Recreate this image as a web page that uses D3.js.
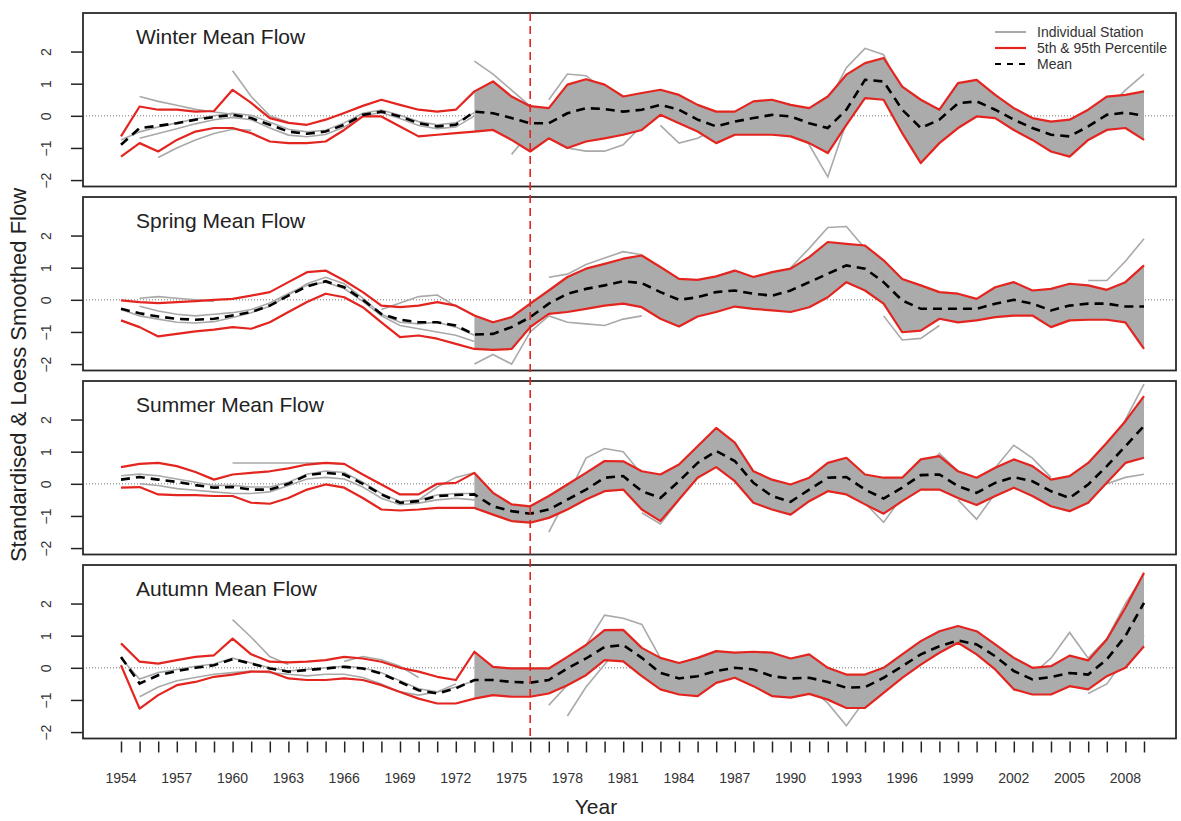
<!DOCTYPE html>
<html><head><meta charset="utf-8">
<script src="https://cdn.jsdelivr.net/npm/d3@7"></script>
<style>body{margin:0;background:#fff}svg{display:block;font-family:"Liberation Sans",Arial,Helvetica,sans-serif}</style>
</head><body><svg id="c" width="1181" height="821"></svg>
<script>
// ---------- DATA ----------
const firstYear = 1954, lastYear = 2009;
const years = d3.range(firstYear, lastYear + 1);
const xTickLabels = [1954,1957,1960,1963,1966,1969,1972,1975,1978,1981,1984,1987,1990,1993,1996,1999,2002,2005,2008];
const yTickValues = [-2,-1,0,1,2];
const breakYear = 1976;
const denseStart = 1973;
const panelTitles = ["Winter Mean Flow","Spring Mean Flow","Summer Mean Flow","Autumn Mean Flow"];
const legendLabels = ["Individual Station","5th & 95th Percentile","Mean"];

const winterMean = [-0.9,-0.38,-0.31,-0.23,-0.12,-0.04,0.03,-0.07,-0.28,-0.49,-0.56,-0.49,-0.28,0.03,0.13,-0.02,-0.23,-0.33,-0.28,0.13,0.08,-0.07,-0.23,
  -0.23,0.08,0.24,0.21,0.13,0.19,0.34,0.19,-0.12,-0.33,-0.18,-0.07,0.03,-0.02,-0.23,-0.38,0.19,1.12,1.07,0.19,-0.38,-0.12,0.39,0.45,0.19,-0.12,-0.38,-0.59,-0.64,-0.33,0.03,0.1,0.0];
const winterP95 = [-0.64,0.29,0.19,0.19,0.13,0.15,0.81,0.4,-0.07,-0.22,-0.28,-0.12,0.09,0.31,0.5,0.34,0.19,0.13,0.19,0.76,1.07,0.6,0.3,
  0.24,0.97,1.14,0.97,0.6,0.71,0.81,0.65,0.34,0.13,0.13,0.45,0.5,0.34,0.24,0.6,1.28,1.64,1.8,0.91,0.5,0.19,1.02,1.12,0.65,0.24,-0.07,-0.18,-0.12,0.19,0.6,0.65,0.76];
const winterP5 = [-1.27,-0.85,-1.11,-0.75,-0.49,-0.38,-0.38,-0.54,-0.8,-0.85,-0.85,-0.8,-0.44,-0.02,-0.02,-0.33,-0.64,-0.59,-0.54,-0.49,-0.44,-0.75,-1.11,
  -0.7,-1.0,-0.8,-0.7,-0.59,-0.44,0.03,-0.23,-0.49,-0.85,-0.59,-0.59,-0.59,-0.64,-0.85,-1.16,-0.28,0.55,0.5,-0.54,-1.47,-0.85,-0.38,-0.02,-0.07,-0.44,-0.75,-1.11,-1.27,-0.75,-0.44,-0.38,-0.75];

const springMean = [-0.28,-0.42,-0.52,-0.59,-0.62,-0.59,-0.49,-0.38,-0.18,0.13,0.42,0.58,0.39,0,-0.44,-0.62,-0.7,-0.7,-0.8,-1.08,-1.06,-0.85,-0.54,-0.12,0.19,0.34,0.45,0.58,
  0.52,0.24,0,0.08,0.24,0.29,0.19,0.13,0.29,0.55,0.81,1.07,0.97,0.55,-0.02,-0.28,-0.28,-0.28,-0.28,-0.12,0,-0.12,-0.33,-0.18,-0.12,-0.12,-0.21,-0.21];
const springP95 = [-0.02,-0.07,-0.1,-0.07,-0.04,0,0.03,0.13,0.24,0.55,0.86,0.91,0.6,0.24,-0.18,-0.23,-0.18,-0.07,-0.18,-0.49,-0.7,-0.54,-0.12,0.29,0.71,0.97,1.12,1.28,
  1.38,1.02,0.65,0.62,0.73,0.91,0.71,0.86,0.97,1.33,1.8,1.74,1.69,1.23,0.65,0.45,0.24,0.19,0.03,0.39,0.55,0.29,0.34,0.5,0.45,0.31,0.55,1.07];
const springP5 = [-0.64,-0.85,-1.14,-1.06,-0.98,-0.93,-0.85,-0.9,-0.7,-0.38,-0.07,0.19,0.08,-0.23,-0.7,-1.16,-1.11,-1.21,-1.37,-1.53,-1.56,-1.53,-0.85,-0.44,-0.38,-0.28,-0.18,-0.12,
  -0.23,-0.59,-0.83,-0.52,-0.38,-0.21,-0.28,-0.33,-0.38,-0.23,0.08,0.55,0.29,-0.12,-1.01,-0.96,-0.59,-0.7,-0.64,-0.54,-0.49,-0.49,-0.85,-0.64,-0.62,-0.62,-0.7,-1.53];

const summerMean = [0.13,0.21,0.13,0.06,-0.04,-0.12,-0.1,-0.18,-0.18,0,0.27,0.34,0.29,0,-0.33,-0.59,-0.54,-0.38,-0.35,-0.33,-0.7,-0.85,-0.93,-0.8,-0.49,-0.18,0.19,0.24,
  -0.23,-0.44,0.08,0.65,1.02,0.71,0.03,-0.38,-0.56,-0.18,0.19,0.21,-0.18,-0.46,-0.12,0.27,0.29,-0.07,-0.28,0.03,0.21,0.08,-0.23,-0.44,-0.02,0.55,1.17,1.8];
const summerP95 = [0.52,0.62,0.65,0.55,0.37,0.13,0.29,0.34,0.39,0.48,0.6,0.65,0.62,0.29,-0.02,-0.33,-0.33,0,0.03,0.34,-0.28,-0.64,-0.7,-0.38,-0.02,0.34,0.71,0.7,
  0.39,0.29,0.6,1.17,1.74,1.28,0.39,0.13,-0.02,0.19,0.65,0.81,0.29,0.19,0.19,0.76,0.86,0.39,0.19,0.5,0.76,0.55,0.13,0.24,0.65,1.28,1.95,2.73];
const summerP5 = [-0.12,-0.1,-0.33,-0.35,-0.35,-0.38,-0.38,-0.59,-0.62,-0.44,-0.18,-0.02,-0.12,-0.44,-0.8,-0.83,-0.8,-0.75,-0.75,-0.75,-0.96,-1.16,-1.21,-1.06,-0.8,-0.49,-0.23,-0.18,
  -0.8,-1.16,-0.49,0.19,0.52,0.08,-0.59,-0.8,-0.96,-0.54,-0.23,-0.33,-0.64,-0.93,-0.54,-0.18,-0.18,-0.44,-0.66,-0.38,-0.12,-0.38,-0.7,-0.85,-0.59,0.03,0.65,0.81];

const autumnMean = [0.34,-0.49,-0.23,-0.1,0,0.08,0.27,0.13,-0.02,-0.12,-0.07,-0.02,0.03,-0.02,-0.18,-0.44,-0.7,-0.8,-0.64,-0.38,-0.38,-0.44,-0.46,-0.38,-0.02,0.29,0.65,0.71,
  0.31,-0.16,-0.33,-0.26,-0.1,0,-0.05,-0.26,-0.33,-0.31,-0.44,-0.62,-0.6,-0.31,0.05,0.42,0.67,0.85,0.73,0.36,-0.1,-0.36,-0.29,-0.16,-0.21,0.26,0.99,2.02];
const autumnP95 = [0.76,0.19,0.13,0.24,0.34,0.39,0.91,0.42,0.19,0.17,0.19,0.24,0.34,0.29,0.19,0,-0.12,-0.28,-0.38,0.5,0.03,-0.02,-0.02,-0.02,0.34,0.71,1.17,1.18,
  0.62,0.31,0.15,0.31,0.52,0.47,0.5,0.47,0.29,0.42,0,-0.21,-0.21,0,0.42,0.83,1.14,1.3,1.14,0.73,0.31,0,0.05,0.38,0.23,0.88,1.87,2.96];
const autumnP5 = [0.08,-1.27,-0.85,-0.54,-0.44,-0.28,-0.21,-0.12,-0.12,-0.33,-0.38,-0.38,-0.33,-0.38,-0.54,-0.75,-0.96,-1.11,-1.11,-0.96,-0.85,-0.9,-0.9,-0.8,-0.54,-0.23,0.24,0.2,
  -0.26,-0.67,-0.83,-0.88,-0.47,-0.31,-0.57,-0.88,-0.93,-0.81,-0.99,-1.25,-1.25,-0.78,-0.31,0.1,0.47,0.78,0.42,-0.05,-0.67,-0.83,-0.83,-0.57,-0.67,-0.26,0,0.67];

// individual stations: [start year, values]
const winterStations = [
  [1954,[-0.75,-0.5,-0.35,-0.22,-0.1,0,0.08,0.02,-0.2,-0.42,-0.5,-0.45,-0.22,0.08,0.18,0.02,-0.18,-0.28,-0.22,0.1]],
  [1955,[-0.7,-0.55,-0.4,-0.25,-0.12,-0.05,-0.12,-0.38,-0.6,-0.65,-0.58,-0.35,0,0.1,-0.08,-0.3,-0.4,-0.35,0.0]],
  [1955,[0.6,0.45,0.33,0.2,0.12,0.05]],
  [1960,[1.4,0.6,0.0,-0.2]],
  [1956,[-1.3,-1.0,-0.75,-0.55,-0.42,-0.45]],
  [1973,[1.7,1.3,0.8,0.3,0.1]],
  [1975,[-1.2,-0.5,-0.7,-1.0,-1.1,-1.1,-0.9,-0.3]],
  [1983,[-0.3,-0.85,-0.7,-0.4,-0.2]],
  [1990,[-0.2,-0.9,-1.9,-0.2,1.2,0.9,0.0]],
  [1992,[0.4,1.5,2.1,1.9,0.7,-0.3]],
  [1977,[0.5,1.3,1.25,0.8,0.4]],
  [2005,[-1.0,-0.5,0.2,0.8,1.3]]
];
const springStations = [
  [1954,[-0.3,-0.5,-0.6,-0.7,-0.72,-0.68,-0.55,-0.4,-0.2,0.15,0.5,0.7,0.5,0.05,-0.45,-0.7,-0.75,-0.7,-0.85,-1.1]],
  [1955,[-0.2,-0.35,-0.45,-0.5,-0.45,-0.4,-0.3,-0.1,0.2,0.45,0.55,0.35,-0.05,-0.5,-0.8,-0.9,-1.0,-1.1,-1.3]],
  [1955,[0.05,0.1,0.05,0.0,-0.05]],
  [1968,[-0.3,-0.1,0.1,0.15,-0.2,-0.5]],
  [1973,[-2.0,-1.7,-2.0,-1.0,-0.5]],
  [1977,[0.7,0.8,1.1,1.3,1.5,1.4]],
  [1977,[-0.5,-0.7,-0.75,-0.8,-0.6,-0.5]],
  [1990,[1.0,1.6,2.25,2.28,1.6,0.8,-0.4]],
  [1995,[-0.5,-1.25,-1.2,-0.8]],
  [2006,[0.6,0.6,1.2,1.9]]
];
const summerStations = [
  [1954,[0.25,0.3,0.25,0.15,0.05,-0.05,-0.05,-0.1,-0.1,0.05,0.3,0.4,0.35,0.05,-0.3,-0.55,-0.5,-0.35,-0.3,-0.3]],
  [1955,[0.0,-0.05,-0.15,-0.2,-0.25,-0.3,-0.3,-0.25,-0.05,0.15,0.2,0.15,-0.1,-0.45,-0.65,-0.6,-0.5,-0.45,-0.5]],
  [1960,[0.65,0.65,0.65,0.65,0.65,0.65,0.6]],
  [1970,[-0.5,-0.1,0.2,0.35,-0.3]],
  [1977,[-1.5,-0.4,0.8,1.1,1.0,0.3]],
  [1982,[-0.9,-1.25,-0.5]],
  [1994,[-0.6,-1.2,-0.4]],
  [1996,[-0.4,0.3,0.95,0.4]],
  [1999,[-0.5,-1.1,-0.3]],
  [2001,[0.5,1.2,0.8,0.2]],
  [2006,[0.0,0.8,2.0,3.1]],
  [2007,[0.0,0.2,0.3]]
];
const autumnStations = [
  [1954,[0.3,-0.35,-0.15,-0.05,0.05,0.12,0.3,0.15,0.0,-0.1,-0.05,0.0,0.05,0.0,-0.15,-0.4,-0.65,-0.75,-0.6,-0.4]],
  [1955,[-0.9,-0.6,-0.4,-0.3,-0.2,-0.15,-0.1,-0.15,-0.2,-0.25,-0.2,-0.2,-0.3,-0.5,-0.75,-0.85,-0.75,-0.5]],
  [1960,[1.5,0.95,0.35,0.1]],
  [1966,[0.2,0.35,0.25,0.05,-0.3]],
  [1977,[-1.16,-0.54,0.71,1.64,1.54,1.35,0.3]],
  [1978,[-1.5,-0.6,0.1,0.8,0.6]],
  [1991,[-0.6,-1.1,-1.8,-1.0,-0.3]],
  [2003,[-0.2,0.3,1.1,0.3,0.9,2.0,2.9]],
  [2006,[-0.8,-0.5,0.3,1.0]]
];

// ---------- LAYOUT ----------
const svg = d3.select("#c");
const plotLeft = 83, plotRight = 1176, panelH = 173.5;
const panelTops = [13, 197, 381, 565];
const red = "#e3241f", grey = "#a9a9a9";
const x = d3.scaleLinear().domain([firstYear, lastYear]).range([121, 1144]);

const panels = [
  {mean: winterMean, p5: winterP5, p95: winterP95, st: winterStations},
  {mean: springMean, p5: springP5, p95: springP95, st: springStations},
  {mean: summerMean, p5: summerP5, p95: summerP95, st: summerStations},
  {mean: autumnMean, p5: autumnP5, p95: autumnP95, st: autumnStations}
];

panels.forEach((p, k) => {
  const top = panelTops[k];
  const y = d3.scaleLinear().domain([-2.2, 3.2]).range([top + panelH, top]);
  const g = svg.append("g");

  g.append("line").attr("x1", plotLeft).attr("x2", plotRight).attr("y1", y(0)).attr("y2", y(0))
    .attr("stroke", "#777").attr("stroke-width", 1).attr("stroke-dasharray", "1,2");

  // dense cloud of stations (envelope)
  const idx = years.map((yr, i) => i).filter(i => years[i] >= denseStart);
  g.append("path").datum(idx)
    .attr("d", d3.area().x(i => x(years[i])).y0(i => y(p.p5[i])).y1(i => y(p.p95[i])))
    .attr("fill", "#ababab");

  const sl = d3.line().x(d => x(d[0])).y(d => y(d[1]));
  p.st.forEach(([start, vals]) => {
    g.append("path").datum(vals.map((v, i) => [start + i, v])).attr("d", sl)
      .attr("fill", "none").attr("stroke", grey).attr("stroke-width", 1.6);
  });

  const ln = d3.line().x((d, i) => x(years[i])).y(d => y(d));
  [p.p5, p.p95].forEach(arr => {
    g.append("path").datum(arr).attr("d", ln).attr("fill", "none")
      .attr("stroke", red).attr("stroke-width", 2.2).attr("stroke-linejoin", "round");
  });
  g.append("path").datum(p.mean).attr("d", ln).attr("fill", "none")
    .attr("stroke", "#000").attr("stroke-width", 2.6).attr("stroke-dasharray", "9,6");

  // y axis
  const ya = d3.axisLeft(y).tickValues(yTickValues).tickSize(12).tickFormat(d3.format("d"));
  const ag = g.append("g").attr("transform", `translate(${plotLeft},0)`).call(ya);
  ag.select(".domain").remove();
  ag.selectAll(".tick line").attr("stroke", "#222").attr("stroke-width", 1.5);
  ag.selectAll(".tick text").attr("x", 0).attr("dy", 0)
    .attr("transform", d => `translate(${46 - plotLeft},0) rotate(-90)`)
    .attr("text-anchor", "middle").attr("dy", "0.35em")
    .attr("font-size", 14).attr("fill", "#333");

  g.append("text").attr("x", 136).attr("y", top + 31).text(panelTitles[k])
    .attr("font-size", 21).attr("fill", "#222");

  g.append("rect").attr("x", plotLeft).attr("y", top).attr("width", plotRight - plotLeft).attr("height", panelH)
    .attr("fill", "none").attr("stroke", "#2a2a2a").attr("stroke-width", 1.8);
});

// vertical break line
svg.append("line").attr("x1", x(breakYear)).attr("x2", x(breakYear))
  .attr("y1", panelTops[0]).attr("y2", panelTops[3] + panelH)
  .attr("stroke", red).attr("stroke-width", 1.6).attr("stroke-dasharray", "8,5");

// x axis
const bottom = panelTops[3] + panelH;
const xa = d3.axisBottom(x).tickValues(years).tickSize(11).tickFormat("");
const xg = svg.append("g").attr("transform", `translate(0,${bottom + 3})`).call(xa);
xg.select(".domain").remove();
xg.selectAll(".tick line").attr("stroke", "#222").attr("stroke-width", 1.5);
svg.append("g").selectAll("text").data(xTickLabels).join("text")
  .attr("x", d => x(d)).attr("y", 783).attr("text-anchor", "middle")
  .attr("font-size", 14).attr("fill", "#333").text(d => d);

svg.append("text").attr("x", 596).attr("y", 814).attr("text-anchor", "middle")
  .attr("font-size", 21).attr("fill", "#222").text("Year");
svg.append("text").attr("transform", "translate(26,375) rotate(-90)").attr("text-anchor", "middle")
  .attr("font-size", 22).attr("fill", "#222").text("Standardised & Loess Smoothed Flow");

// legend
const lg = svg.append("g");
const legRows = [32, 48, 64];
const legStyles = [
  {stroke: grey, dash: null, w: 2},
  {stroke: red, dash: null, w: 2.2},
  {stroke: "#000", dash: "6,6", w: 2.2}
];
legendLabels.forEach((t, i) => {
  lg.append("line").attr("x1", 995).attr("x2", 1026).attr("y1", legRows[i]).attr("y2", legRows[i])
    .attr("stroke", legStyles[i].stroke).attr("stroke-width", legStyles[i].w)
    .attr("stroke-dasharray", legStyles[i].dash);
  lg.append("text").attr("x", 1037).attr("y", legRows[i]).attr("dy", "0.35em")
    .attr("font-size", 14).attr("fill", "#333").text(t);
});
</script></body></html>
